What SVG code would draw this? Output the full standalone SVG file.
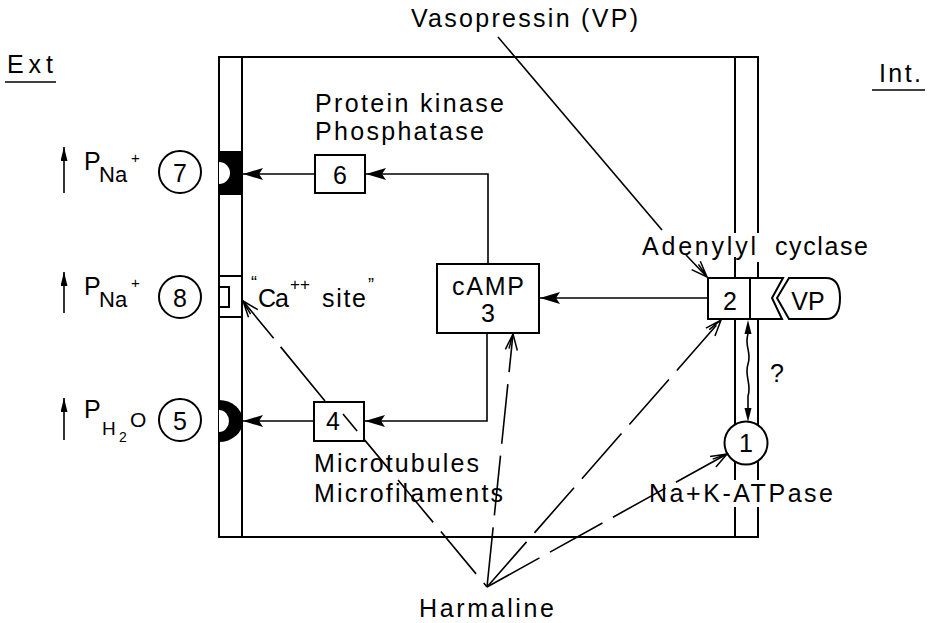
<svg xmlns="http://www.w3.org/2000/svg" width="930" height="623" viewBox="0 0 930 623">
<defs>
<style>
.t{font-family:"Liberation Sans",Arial,sans-serif;font-size:25px;fill:#000}
.s{stroke:#000;stroke-width:2;fill:none}
.c{stroke:#000;stroke-width:1.6;fill:none}
.d{stroke-dasharray:60 12}
.b{fill:#000}
.w{fill:#fff}
</style>
<marker id="af" viewBox="0 0 20 12" refX="20" refY="6" markerWidth="20" markerHeight="12" markerUnits="userSpaceOnUse" orient="auto"><path d="M0,0 L20,6 L0,12 L4,6 Z" fill="#000"/></marker>
<marker id="au" viewBox="0 0 14 7" refX="14" refY="3.5" markerWidth="14" markerHeight="7" markerUnits="userSpaceOnUse" orient="auto"><path d="M0,0 L14,3.5 L0,7 Z" fill="#000"/></marker>
<marker id="ao" viewBox="-18 -8 20 16" refX="0" refY="0" markerWidth="20" markerHeight="16" markerUnits="userSpaceOnUse" orient="auto"><path d="M-16,-6 L0,0 L-16,6 M-15,-2.5 L0,0" stroke="#000" stroke-width="1.5" fill="none"/></marker>
</defs>
<rect width="930" height="623" fill="#fff"/>

<g id="side-labels">
<text class="t" x="7" y="73" font-size="21" textLength="46">Ext</text>
<line class="c" x1="5" y1="82" x2="56" y2="82"/>
<text class="t" x="879" y="82" font-size="26" textLength="42">Int.</text>
<line class="c" x1="872" y1="90" x2="925" y2="90"/>
</g>

<g id="cell-membrane" class="s">
<line x1="219" y1="56" x2="219" y2="537"/>
<line x1="242" y1="57" x2="242" y2="537"/>
<line x1="218" y1="57" x2="759" y2="57"/>
<line x1="218" y1="537" x2="759" y2="537"/>
<path d="M735,57 V233 M735,257 V278 M758,57 V233 M758,262 V278 M735,319 V424 M758,319 V425 M735,462 V480 M735,507 V537 M758,461 V480 M758,507 V537"/>
</g>

<g id="site-7">
<rect x="219" y="151" width="23" height="44" class="b"/>
<path d="M219,162 A11,11 0 0 1 219,184 Z" class="w"/>
<circle cx="180" cy="172" r="21" class="s"/>
<text class="t" x="180" y="182" font-size="27" text-anchor="middle">7</text>
<line class="c" x1="64" y1="193" x2="64" y2="147" marker-end="url(#au)"/>
<text class="t"><tspan x="84" y="170">P</tspan><tspan x="99" y="182" font-size="22">Na</tspan><tspan x="131" y="163" font-size="15">+</tspan></text>
</g>

<g id="site-8">
<path class="s" d="M219,276 H242 M219,317 H242 M219,287 H229 V307 H219"/>
<circle cx="180" cy="297" r="21" class="s"/>
<text class="t" x="180" y="307" font-size="27" text-anchor="middle">8</text>
<line class="c" x1="64" y1="313" x2="64" y2="272" marker-end="url(#au)"/>
<text class="t"><tspan x="84" y="295">P</tspan><tspan x="99" y="307" font-size="22">Na</tspan><tspan x="131" y="288" font-size="15">+</tspan></text>
<text class="t"><tspan x="251" y="289" font-size="18">“</tspan><tspan x="258" y="307" textLength="31">Ca</tspan><tspan x="290" y="290" font-size="17">++</tspan><tspan x="322" y="307" textLength="44">site</tspan><tspan x="368" y="291" font-size="18">”</tspan></text>
</g>

<g id="site-5">
<path d="M219,400 A24,21 0 0 1 219,442 Z" class="b"/>
<path d="M219,410 A10,11 0 0 1 219,432 Z" class="w"/>
<circle cx="180" cy="420" r="21" class="s"/>
<text class="t" x="180" y="430" font-size="27" text-anchor="middle">5</text>
<line class="c" x1="64" y1="440" x2="64" y2="398" marker-end="url(#au)"/>
<text class="t"><tspan x="84" y="418">P</tspan><tspan x="102" y="435" font-size="19">H</tspan><tspan x="119" y="442" font-size="14">2</tspan><tspan x="130" y="427" font-size="21">O</tspan></text>
</g>

<g id="node-6">
<rect x="315" y="155" width="50" height="38" class="s"/>
<text class="t" x="340" y="184" font-size="25" text-anchor="middle">6</text>
<text class="t" x="315" y="112" textLength="189">Protein kinase</text>
<text class="t" x="315" y="140" textLength="169">Phosphatase</text>
</g>

<g id="node-3-camp">
<rect x="437" y="264" width="102" height="69" class="s"/>
<text class="t" x="488" y="295" text-anchor="middle" textLength="72">cAMP</text>
<text class="t" x="488" y="322" text-anchor="middle">3</text>
</g>

<g id="node-4">
<rect x="314" y="402" width="50" height="39" class="s"/>
<text class="t" x="333" y="430" font-size="24" text-anchor="middle">4</text>
<text class="t" x="314" y="472" textLength="165">Microtubules</text>
<text class="t" x="314" y="502" textLength="189">Microfilaments</text>
</g>

<g id="node-2-adenylyl-cyclase">
<path class="s" d="M708,278 H783 L772,298 L782,319 H708 Z M750,278 V319"/>
<text class="t" x="730" y="310" font-size="25" text-anchor="middle">2</text>
<text class="t" y="255"><tspan x="642" textLength="114">Adenylyl</tspan> <tspan x="775" textLength="93">cyclase</tspan></text>
</g>

<g id="node-vp-receptor">
<path class="s" d="M789,278 H826 Q840,278 840,298 Q840,319 826,319 H789 L777,298 Z"/>
<text class="t" x="808" y="310" font-size="27" text-anchor="middle">VP</text>
</g>

<g id="node-1-atpase">
<circle cx="746" cy="443" r="21.5" class="s"/>
<text class="t" x="746" y="452" font-size="24" text-anchor="middle">1</text>
<text class="t" x="649" y="502" textLength="184">Na+K-ATPase</text>
</g>

<g id="label-vasopressin">
<text class="t" x="411" y="27" textLength="227">Vasopressin (VP)</text>
</g>

<g id="label-harmaline">
<text class="t" x="419" y="617" textLength="135">Harmaline</text>
</g>

<g id="label-question">
<text class="t" x="777" y="382" text-anchor="middle">?</text>
</g>

<g id="connectors">
<line class="c" x1="315" y1="174" x2="243" y2="174" marker-end="url(#af)"/>
<path class="c" d="M488,264 V174 H366" marker-end="url(#af)"/>
<path class="c" d="M487,333 V421 H365" marker-end="url(#af)"/>
<line class="c" x1="314" y1="421" x2="243" y2="421" marker-end="url(#af)"/>
<line class="c" x1="708" y1="298" x2="540" y2="298" marker-end="url(#af)"/>
<line class="c" x1="498" y1="37" x2="662" y2="230"/>
<line class="c" x1="686" y1="255" x2="707" y2="277" marker-end="url(#ao)"/>
<polygon points="748,320 744.5,334 751.5,334" class="b"/>
<polygon points="748,422 744.5,408 751.5,408" class="b"/>
<path class="c" d="M748,334 C744,346 752,352 748,364 C744,376 752,384 748,396 L748,408"/>
<line class="c" x1="325" y1="401" x2="243" y2="301" stroke-dasharray="70 11" marker-end="url(#ao)"/>
<line class="c d" x1="487" y1="587" x2="513" y2="334" marker-end="url(#ao)"/>
<line class="c d" x1="487" y1="587" x2="721" y2="320" marker-end="url(#ao)"/>
<line class="c d" x1="487" y1="587" x2="727" y2="454" marker-end="url(#ao)"/>
<line class="c" x1="343" y1="414" x2="487" y2="587" stroke-dasharray="22 12 40 12 55 12 55 12"/>
</g>
</svg>
